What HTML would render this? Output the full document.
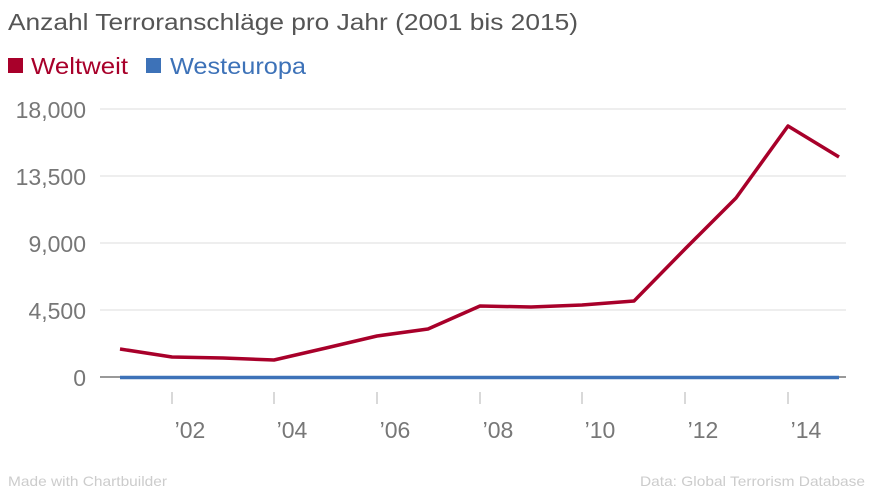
<!DOCTYPE html>
<html><head><meta charset="utf-8"><style>
body{margin:0;background:#fff;width:873px;height:491px;overflow:hidden;font-family:"Liberation Sans",sans-serif}
</style></head><body>
<svg width="873" height="491" xmlns="http://www.w3.org/2000/svg" font-family="Liberation Sans, sans-serif">
<text x="8" y="30" font-size="23" fill="#555" textLength="570" lengthAdjust="spacingAndGlyphs">Anzahl Terroranschläge pro Jahr (2001 bis 2015)</text>
<rect x="8" y="58" width="15" height="15" fill="#a8002a"/>
<text x="31" y="74" font-size="23" fill="#a8002a" textLength="97" lengthAdjust="spacingAndGlyphs">Weltweit</text>
<rect x="146" y="58" width="15" height="15" fill="#3d72b8"/>
<text x="170" y="74" font-size="23" fill="#3d72b8" textLength="136" lengthAdjust="spacingAndGlyphs">Westeuropa</text>
<g stroke="#ddd" stroke-width="1">
<line x1="100" y1="109" x2="846" y2="109"/>
<line x1="100" y1="176" x2="846" y2="176"/>
<line x1="100" y1="243" x2="846" y2="243"/>
<line x1="100" y1="310" x2="846" y2="310"/>
</g>
<line x1="100" y1="377" x2="846" y2="377" stroke="#333" stroke-width="1"/>
<g font-size="23" fill="#777" text-anchor="end">
<text x="86" y="118">18,000</text>
<text x="86" y="185">13,500</text>
<text x="86" y="252">9,000</text>
<text x="86" y="319">4,500</text>
<text x="86" y="386">0</text>
</g>
<g stroke="#ccc" stroke-width="1.5">
<line x1="172" y1="392" x2="172" y2="404"/><line x1="274" y1="392" x2="274" y2="404"/>
<line x1="377" y1="392" x2="377" y2="404"/><line x1="480" y1="392" x2="480" y2="404"/>
<line x1="582" y1="392" x2="582" y2="404"/><line x1="685" y1="392" x2="685" y2="404"/>
<line x1="788" y1="392" x2="788" y2="404"/>
</g>
<g font-size="23" fill="#777" text-anchor="middle">
<text x="190" y="438">’02</text><text x="292" y="438">’04</text><text x="395" y="438">’06</text>
<text x="498" y="438">’08</text><text x="600" y="438">’10</text><text x="703" y="438">’12</text>
<text x="806" y="438">’14</text>
</g>
<polyline fill="none" stroke="#3d72b8" stroke-width="3.5" points="120,377.5 839,377.5"/>
<polyline fill="none" stroke="#a8002a" stroke-width="3.5" stroke-linejoin="round" points="120,349 172,357 223,358 274,360 326,348 377,336 428,329 480,306 531,307 582,305 634,301 685,249 736,198 788,126 839,157"/>
<text x="8" y="486" font-size="14" fill="#ccc" textLength="159" lengthAdjust="spacingAndGlyphs">Made with Chartbuilder</text>
<text x="865" y="486" font-size="14" fill="#ccc" text-anchor="end" textLength="225" lengthAdjust="spacingAndGlyphs">Data: Global Terrorism Database</text>
</svg>
</body></html>
